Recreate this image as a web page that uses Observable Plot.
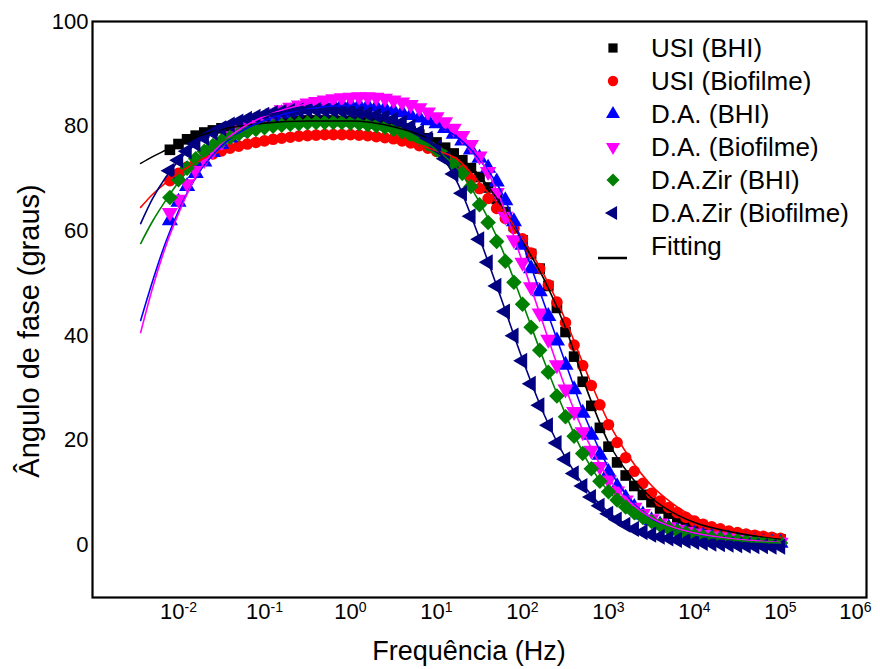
<!DOCTYPE html>
<html><head><meta charset="utf-8">
<script src="https://cdn.jsdelivr.net/npm/d3@7"></script>
<script src="https://cdn.jsdelivr.net/npm/@observablehq/plot@0.6"></script>
<style>
body{margin:0;background:#fff;}
#chart{width:880px;height:669px;}
svg{font-family:"Liberation Sans", Arial, sans-serif;}
</style></head><body><div id="chart"></div>
<script>
// log10 of frequency (Hz) of the measured points
const freqExp = [-2.1,-2.0,-1.9,-1.8,-1.7,-1.6,-1.5,-1.4,-1.3,-1.2,
  -1.1,-1.0,-0.9,-0.8,-0.7,-0.6,-0.5,-0.4,-0.3,-0.2,
  -0.1,0.0,0.1,0.2,0.3,0.4,0.5,0.6,0.7,0.8,
  0.9,1.0,1.1,1.2,1.3,1.4,1.5,1.6,1.7,1.8,
  1.9,2.0,2.1,2.2,2.3,2.4,2.5,2.6,2.7,2.8,
  2.9,3.0,3.1,3.2,3.3,3.4,3.5,3.6,3.7,3.8,
  3.9,4.0,4.1,4.2,4.3,4.4,4.5,4.6,4.7,4.8,
  4.9,5.0];

const usiBHI = [75.5,76.6,77.5,78.2,78.8,79.2,79.6,79.9,80.2,80.4,
  80.6,80.7,80.8,80.9,81.0,81.0,81.1,81.1,81.1,81.1,
  81.0,81.0,80.9,80.7,80.5,80.2,79.9,79.5,79.0,78.4,
  77.7,76.9,75.9,74.8,73.5,72.0,70.3,68.3,66.1,63.6,
  60.9,58.2,55.6,52.8,49.5,45.3,40.7,36.0,31.2,26.6,
  22.4,18.8,15.8,13.3,11.3,9.6,8.2,7.0,6.0,5.1,
  4.4,3.8,3.3,2.9,2.5,2.2,2.0,1.8,1.6,1.4,
  1.2,1.1];
const usiBio = [69.6,71.0,72.2,73.2,74.0,74.7,75.3,75.8,76.2,76.6,
  76.9,77.2,77.5,77.7,77.9,78.1,78.2,78.3,78.4,78.4,
  78.4,78.4,78.3,78.2,78.0,77.8,77.6,77.2,76.8,76.3,
  75.8,75.2,74.3,73.1,71.6,69.9,68.1,66.2,64.3,62.4,
  60.5,58.5,55.8,52.8,49.7,46.4,42.5,38.2,34.3,30.5,
  26.8,23.0,19.6,16.7,14.1,11.8,9.9,8.4,7.2,6.2,
  5.3,4.6,4.0,3.5,3.1,2.7,2.4,2.1,1.9,1.7,
  1.5,1.3];
const daBHI = [62.0,65.5,68.5,71.0,73.2,75.0,76.5,77.8,78.9,79.8,
  80.6,81.3,81.9,82.4,82.8,83.2,83.5,83.7,83.9,84.0,
  84.1,84.1,84.0,83.9,83.7,83.4,83.0,82.6,82.1,81.6,
  81.1,80.5,79.6,78.5,77.2,75.5,73.9,72.0,69.4,65.8,
  61.8,57.3,52.8,48.4,43.7,39.0,34.4,29.7,25.2,21.0,
  17.2,13.9,11.2,9.0,7.2,5.8,4.7,3.9,3.3,2.8,
  2.4,2.1,1.8,1.6,1.4,1.2,1.0,0.9,0.7,0.6,
  0.5,0.4];
const daBio = [63.5,66.0,69.0,71.5,73.6,75.4,76.9,78.2,79.3,80.3,
  81.1,81.8,82.5,83.1,83.6,84.0,84.4,84.7,85.0,85.2,
  85.4,85.5,85.6,85.6,85.5,85.3,85.0,84.6,84.1,83.5,
  82.7,81.8,80.8,79.6,78.2,76.5,74.3,71.3,67.3,62.8,
  58.3,54.0,49.3,44.3,39.3,34.4,29.8,25.5,21.6,18.1,
  15.0,12.4,10.3,8.6,7.2,6.0,5.0,4.2,3.5,3.0,
  2.6,2.3,2.0,1.7,1.5,1.3,1.1,1.0,0.8,0.7,
  0.6,0.5];
const zirBHI = [66.4,69.8,72.0,73.8,75.2,76.3,77.2,77.9,78.5,79.0,
  79.4,79.7,80.0,80.2,80.4,80.5,80.6,80.7,80.7,80.7,
  80.7,80.6,80.5,80.3,80.1,79.8,79.4,78.9,78.3,77.5,
  76.6,75.5,74.2,72.7,71.0,68.5,65.0,61.6,58.0,54.2,
  50.2,46.0,41.6,37.2,33.0,28.5,24.5,20.8,17.5,14.6,
  12.2,10.2,8.6,7.3,6.2,5.3,4.5,3.8,3.2,2.7,
  2.3,1.9,1.6,1.4,1.2,1.0,0.9,0.8,0.7,0.6,
  0.5,0.4];
const zirBio = [71.5,73.5,75.2,76.6,77.8,78.8,79.6,80.3,80.9,81.4,
  81.8,82.2,82.5,82.7,82.9,83.0,83.1,83.1,83.0,83.0,
  82.9,82.8,82.6,82.4,82.1,81.8,81.3,80.7,79.9,78.9,
  77.6,75.9,73.8,70.9,67.2,62.8,58.4,54.0,49.5,44.6,
  40.0,35.2,30.8,26.7,22.9,19.5,16.4,13.7,11.3,9.2,
  7.5,6.0,4.9,3.9,3.1,2.5,2.0,1.6,1.3,1.0,
  0.8,0.6,0.4,0.3,0.2,0.1,0.0,-0.1,-0.2,-0.2,
  -0.3,-0.3];

// fitted curves (log10 Hz)
const fitExp = [-2.44,-2.3,-2.15,-2.0,-1.75,-1.5,-1.25,-1.0,-0.5,0.0,0.5,1.0,1.25,1.5,1.75,2.0,2.25,2.5,2.75,3.0,3.25,3.5,3.75,4.0,4.5,5.0];
const fitUsiBHI = [72.9,74.2,75.4,76.6,78.2,79.4,80.1,80.6,81.0,81.0,79.9,76.9,74.2,70.6,65.0,58.0,50.8,41.5,29.6,19.6,13.3,9.0,6.2,4.3,2.3,1.2];
const fitUsiBio = [64.5,67.0,69.2,71.0,73.5,75.2,76.2,77.1,78.1,78.4,77.7,75.3,73.6,69.2,64.4,58.6,51.6,43.0,32.8,23.5,16.6,11.4,7.9,5.3,2.7,1.4];
const fitDaBHI = [42.9,50.5,57.8,63.8,71.5,76.2,79.2,81.1,83.3,84.0,83.0,80.2,77.8,73.6,67.6,57.6,46.2,34.8,23.6,14.8,8.7,5.1,3.1,2.1,1.0,0.4];
const fitDaBio = [40.6,49.2,57.0,63.3,71.8,76.7,79.8,81.9,84.3,85.4,85.0,81.8,79.0,74.0,65.8,54.0,41.8,30.0,20.2,12.8,8.2,5.2,3.4,2.3,1.1,0.5];
const fitZirBHI = [57.6,61.9,65.8,69.3,73.9,77.0,78.7,79.8,80.6,80.6,79.4,75.5,71.8,65.5,57.0,46.3,35.2,25.0,16.2,10.3,6.8,4.6,3.1,2.0,0.9,0.4];
const fitZirBio = [61.4,66.2,70.2,73.4,77.2,79.6,81.0,82.1,83.1,82.8,81.4,75.9,69.0,58.6,47.2,35.5,25.0,16.7,10.6,6.3,3.6,2.1,1.2,0.6,0.0,-0.3];

const seriesNames = ["USI (BHI)","USI (Biofilme)","D.A. (BHI)","D.A. (Biofilme)","D.A.Zir (BHI)","D.A.Zir (Biofilme)"];
const seriesColors = ["#000000","#ff0000","#0000ff","#ff00ff","#008000","#000080"];
const xTicks = [1e-2,1e-1,1e0,1e1,1e2,1e3,1e4,1e5,1e6];
const yTicks = [0,20,40,60,80,100];

// symbol shapes
const s3 = Math.sqrt(3);
const symSquare = {draw(c,size){const h=Math.sqrt(size)/2;c.moveTo(-h,-h);c.lineTo(h,-h);c.lineTo(h,h);c.lineTo(-h,h);c.closePath();}};
const symCircle = {draw(c,size){const r=Math.sqrt(size/Math.PI);c.moveTo(r,0);c.arc(0,0,r,0,2*Math.PI);}};
const symUp = {draw(c,size){const y=-Math.sqrt(size/(s3*3));c.moveTo(0,2*y);c.lineTo(-s3*y,-y);c.lineTo(s3*y,-y);c.closePath();}};
const symDown = {draw(c,size){const y=-Math.sqrt(size/(s3*3));c.moveTo(0,-2*y);c.lineTo(-s3*y,y);c.lineTo(s3*y,y);c.closePath();}};
const symLeft = {draw(c,size){const y=-Math.sqrt(size/(s3*3));c.moveTo(2*y,0);c.lineTo(-y,-s3*y);c.lineTo(-y,s3*y);c.closePath();}};
const symDiamond = {draw(c,size){const h=Math.sqrt(size/2);c.moveTo(0,-h);c.lineTo(h,0);c.lineTo(0,h);c.lineTo(-h,0);c.closePath();}};
const seriesSymbols = [symSquare,symCircle,symUp,symDown,symDiamond,symLeft];
const seriesR = [6.0,5.8,6.0,6.0,6.2,6.0];

const dataSets = [usiBHI,usiBio,daBHI,daBio,zirBHI,zirBio];
const fitSets = [fitUsiBHI,fitUsiBio,fitDaBHI,fitDaBio,fitZirBHI,fitZirBio];

const pts = dataSets.map(vals => vals.map((v,j)=>({f: Math.pow(10,freqExp[j]), v})));
const fits = fitSets.map(vals => vals.map((v,j)=>({f: Math.pow(10,fitExp[j]), v})));

const FONT = '"Liberation Sans", Arial, sans-serif';

const plot = Plot.plot({
  width: 880, height: 669,
  marginLeft: 92, marginRight: 14, marginTop: 21, marginBottom: 72,
  style: {fontFamily: FONT, fontSize: "22px", color: "#000", background: "#fff", overflow: "visible"},
  x: {type: "log", domain: [1e-3, 1e6], ticks: xTicks, tickSize: 0, tickPadding: 6,
      tickFormat: d => String(Math.round(Math.log10(d))), label: null},
  y: {domain: [-10, 100], ticks: yTicks, tickSize: 0, tickPadding: 4, label: null},
  marks: [
    ...pts.map((p,i) => Plot.dot(p, {x: "f", y: "v", symbol: seriesSymbols[i], r: seriesR[i], fill: seriesColors[i], stroke: "none"})),
    ...fits.map((p,i) => Plot.line(p, {x: "f", y: "v", stroke: seriesColors[i], strokeWidth: 1.6, curve: "monotone-x"})),
    Plot.frame({stroke: "#000", strokeWidth: 2.2})
  ]
});

document.getElementById("chart").appendChild(plot);
const svg = d3.select(plot);

// superscript exponents on x tick labels
const NS = "http://www.w3.org/2000/svg";
const tickTexts = plot.querySelectorAll('[aria-label="x-axis tick label"] text');
tickTexts.forEach((t, k) => {
  const e = t.textContent;
  t.textContent = "10";
  const ts = document.createElementNS(NS, "tspan");
  ts.setAttribute("dy", "-0.5em");
  ts.setAttribute("font-size", "14px");
  ts.textContent = e;
  t.appendChild(ts);
  if (k === tickTexts.length - 1) t.setAttribute("dx", "-11");
});

// axis titles
svg.append("text").attr("x", 469).attr("y", 660).attr("text-anchor", "middle")
  .attr("font-size", "27px").attr("font-family", FONT).attr("fill", "#000").text("Frequência (Hz)");
svg.append("text").attr("transform", "translate(39,331) rotate(-90)").attr("text-anchor", "middle")
  .attr("font-size", "29px").attr("font-family", FONT).attr("fill", "#000").text("Ângulo de fase (graus)");

// legend
const lg = svg.append("g").attr("font-family", FONT).attr("font-size", "26px").attr("text-anchor", "start");
const rowY = [48, 81, 114, 147, 180, 213];
seriesNames.forEach((name, i) => {
  lg.append("path")
    .attr("d", d3.symbol().type(seriesSymbols[i]).size(Math.PI * 5.2 * 5.2)())
    .attr("transform", `translate(613,${rowY[i]})`)
    .attr("fill", seriesColors[i]);
  lg.append("text").attr("x", 651).attr("y", rowY[i]).attr("dy", "0.35em").attr("fill", "#000").text(name);
});
lg.append("line").attr("x1", 598).attr("x2", 627).attr("y1", 258).attr("y2", 258).attr("stroke", "#000").attr("stroke-width", 2.5);
lg.append("text").attr("x", 651).attr("y", 246).attr("dy", "0.35em").attr("fill", "#000").text("Fitting");
</script></body></html>
